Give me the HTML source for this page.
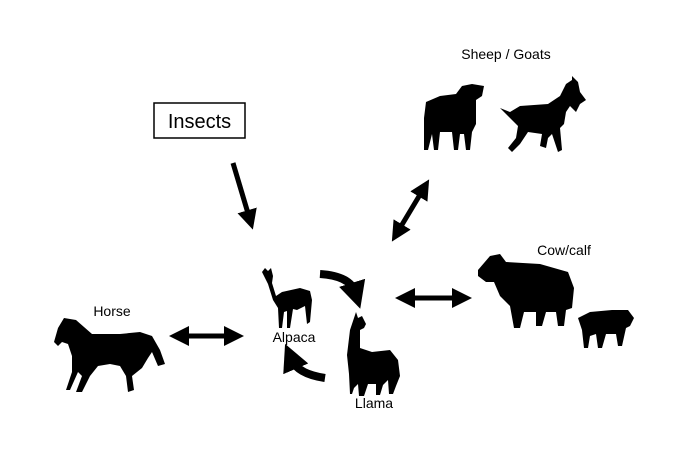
<!DOCTYPE html>
<html><head><style>
html,body{margin:0;padding:0;background:#fff;}
svg{display:block;font-family:"Liberation Sans",Arial,sans-serif;}
</style></head><body>
<svg width="673" height="450" viewBox="0 0 673 450" xmlns="http://www.w3.org/2000/svg">
<defs>
<marker id="ah" markerWidth="4" markerHeight="4" refX="2" refY="2" orient="auto" markerUnits="strokeWidth">
<path d="M0,0 L4,2 L0,4 z" fill="#000"/></marker>
<marker id="as" markerWidth="4" markerHeight="4" refX="2" refY="2" orient="auto-start-reverse" markerUnits="strokeWidth">
<path d="M0,0 L4,2 L0,4 z" fill="#000"/></marker>
<marker id="ac" markerWidth="3.4" markerHeight="3.4" refX="1.2" refY="1.7" orient="auto" markerUnits="strokeWidth">
<path d="M0,0 L3.4,1.7 L0,3.4 z" fill="#000"/></marker>
</defs>
<rect x="154" y="103" width="91" height="35" fill="#fff" stroke="#000" stroke-width="1.5"/>
<text x="199.5" y="128" font-size="20" text-anchor="middle">Insects</text>
<text x="506" y="59" font-size="14" text-anchor="middle">Sheep / Goats</text>
<text x="564" y="255" font-size="14" text-anchor="middle">Cow/calf</text>
<text x="112" y="316" font-size="14" text-anchor="middle">Horse</text>
<text x="294" y="342" font-size="14" text-anchor="middle">Alpaca</text>
<text x="374" y="408" font-size="14" text-anchor="middle">Llama</text>
<g stroke="#000" stroke-width="5" fill="none">
<line x1="233" y1="163" x2="250" y2="220" marker-end="url(#ah)"/>
<line x1="424" y1="188" x2="397" y2="233" marker-start="url(#as)" marker-end="url(#as)"/>
<line x1="405" y1="298" x2="462" y2="298" marker-start="url(#as)" marker-end="url(#as)"/>
<line x1="179" y1="336" x2="234" y2="336" marker-start="url(#as)" marker-end="url(#as)"/>
<path d="M320 274 Q350 276 355 292" stroke-width="8" marker-end="url(#ac)"/>
<path d="M325 378 Q298 374 292 360" stroke-width="8" marker-end="url(#ac)"/>
</g>
<g fill="#000">
<path d="M262 272 L265 268 L268 271 L271 268 L273 276 L272 283 L276 296 L282 292 L300 288 L310 291 L312 300 L310 322 L307 324 L305 306 L297 310 L293 309 L290 328 L287 328 L287 311 L284 312 L282 328 L279 328 L278 308 L273 300 L268 284 Z"/>
<path d="M356 312 L358 318 L362 316 L366 324 L364 328 L360 330 L360 348 L372 352 L390 350 L398 360 L400 376 L396 386 L393 394 L389 394 L388 380 L383 385 L380 395 L376 395 L376 384 L368 384 L364 396 L359 396 L358 384 L354 388 L352 394 L350 394 L349 374 L347 355 L350 330 Z"/>
<path d="M58 328 L64 318 L76 320 L92 334 L120 334 L140 332 L152 336 L160 350 L165 364 L158 366 L152 352 L148 358 L142 368 L132 376 L134 390 L128 392 L126 376 L120 366 L110 364 L98 366 L90 376 L82 392 L76 392 L82 376 L78 372 L70 390 L66 390 L72 372 L72 356 L68 344 L62 342 L58 346 L54 342 Z"/>
<path d="M478 270 L490 256 L500 254 L506 262 L540 264 L568 272 L574 288 L572 308 L566 310 L564 326 L558 326 L556 312 L546 312 L542 326 L536 326 L536 312 L524 312 L520 328 L514 328 L510 306 L500 296 L494 282 L486 282 L478 276 Z"/>
<path d="M578 318 L590 312 L612 310 L628 310 L634 318 L630 326 L626 328 L622 346 L618 346 L616 334 L606 334 L602 348 L598 348 L596 334 L590 336 L588 348 L584 348 L582 330 Z"/>
<path d="M426 102 L440 96 L456 94 L462 86 L472 84 L484 86 L482 96 L476 100 L476 124 L472 132 L470 150 L466 150 L464 134 L460 134 L458 150 L454 150 L452 132 L440 132 L438 150 L434 150 L432 134 L428 150 L424 150 L424 118 Z"/>
<path d="M500 108 L510 112 L520 106 L548 104 L560 96 L566 84 L572 80 L572 76 L578 82 L580 92 L586 100 L580 104 L576 112 L570 106 L566 112 L564 124 L560 128 L562 150 L558 152 L552 134 L548 138 L546 148 L540 146 L542 134 L528 132 L520 144 L512 152 L508 148 L516 138 L518 126 L510 118 Z"/>
</g>
</svg>
</body></html>
